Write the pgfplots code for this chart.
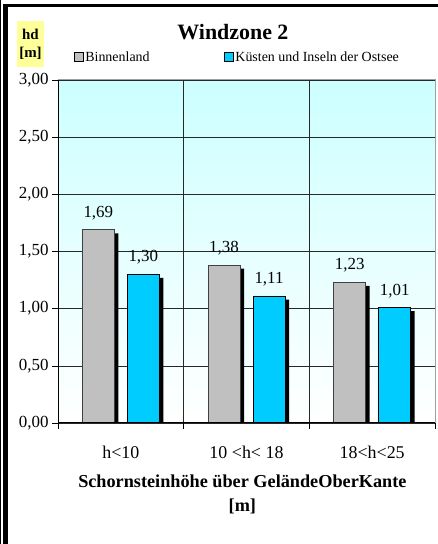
\documentclass[border=0pt]{standalone}
\usepackage{pgfplots}
\pgfplotsset{compat=1.18}
\usepackage{pgfplotstable}
\usepackage{fontspec}
\setmainfont{Liberation Serif}

\definecolor{binnen}{RGB}{192,192,192}
\definecolor{binnenrand}{RGB}{64,64,64}
\definecolor{kueste}{RGB}{0,204,255}
\definecolor{hgcyan}{RGB}{204,255,255}
\definecolor{labelgelb}{RGB}{255,255,153}
\definecolor{gitter}{RGB}{40,40,40}
\definecolor{rand}{RGB}{160,160,160}

\pgfplotsset{/pgf/number format/assume math mode=true}

% hd-Werte je Hoehenklasse
\pgfplotstableread{
x binnen kueste
0 1.69 1.30
1 1.38 1.11
2 1.23 1.01
}\hddaten

\begin{document}
\begin{tikzpicture}[x=1bp,y=1bp]
\useasboundingbox (0,0) rectangle (438,544);
% Rahmen links und oben
\fill[black] (0,0) rectangle (1.2,544);
\fill[black] (3,0) rectangle (8,540);
\fill[black] (3,537) rectangle (438,540);

\begin{axis}[
    at={(58bp,121bp)}, anchor=south west,
    scale only axis, width=377bp, height=343bp,
    ymin=0, ymax=3, ytick={0,0.5,...,3},
    xmin=-0.5, xmax=2.5,
    xtick={-0.5,0.5,1.5,2.5},
    x tick label as interval,
    xticklabels={h<10, 10 <h< 18, 18<h<25},
    tick pos=left, tick align=outside,
    major tick length=6bp,
    tick style={black, line width=0.6bp},
    grid=major,
    major grid style={gitter, line width=0.6bp},
    axis line style={rand, line width=1bp},
    axis background/.style={shade, top color=hgcyan, bottom color=white},
    yticklabel style={font=\fontsize{17}{20}\selectfont,
      /pgf/number format/.cd, fixed, fixed zerofill, precision=2, use comma},
    xticklabel style={font=\fontsize{18}{21}\selectfont, yshift=-14bp},
    title={Windzone 2},
    title style={at={(rel axis cs:0.464,1.121)}, anchor=center,
      font=\bfseries\fontsize{22}{26}\selectfont},
    xlabel={Schornsteinhöhe über GeländeOberKante\\{[m]}},
    xlabel style={at={(rel axis cs:0.489,-0.209)}, anchor=center, align=center,
      font=\bfseries\fontsize{18.3}{24}\selectfont},
    ylabel={hd\\{[m]}},
    ylabel style={rotate=-90, at={(rel axis cs:-0.073,1.105)}, anchor=center,
      align=center, fill=labelgelb, minimum width=27bp, minimum height=46bp,
      inner sep=0pt, font=\bfseries\fontsize{15}{18}\selectfont},
    legend columns=2,
    legend style={at={(rel axis cs:0.042,1.067)}, anchor=west, draw=none, fill=none,
      inner sep=0pt, font=\fontsize{14}{16}\selectfont,
      nodes={inner sep=1.5bp},
      /tikz/every even column/.append style={column sep=73bp}},
    legend image code/.code={\draw[#1, draw=black, line width=0.8bp] (0bp,-4.5bp) rectangle (9bp,4.5bp);},
    after end axis/.code={
      \draw[black, line width=1bp] (rel axis cs:0,1) -- (rel axis cs:0,0) -- (rel axis cs:1,0);
    },
  ]
% Schatten
\addplot[ybar, bar width=32bp, bar shift=-22.5bp, fill=black, draw=none,
  forget plot, xshift=4bp, yshift=-3.5bp] table[x=x, y=binnen] {\hddaten};
\addplot[ybar, bar width=32bp, bar shift=22.5bp, fill=black, draw=none,
  forget plot, xshift=4bp, yshift=-3.5bp] table[x=x, y=kueste] {\hddaten};
% Balken
\addplot[ybar, bar width=32bp, bar shift=-22.5bp, fill=binnen, draw=binnenrand,
  line width=1bp,
  nodes near coords,
  nodes near coords style={black, font=\fontsize{17}{20}\selectfont,
    xshift=-22.5bp, yshift=6bp,
    /pgf/number format/.cd, fixed, fixed zerofill, precision=2, use comma}]
  table[x=x, y=binnen] {\hddaten};
\addplot[ybar, bar width=32bp, bar shift=22.5bp, fill=kueste, draw=black,
  line width=1bp,
  nodes near coords,
  nodes near coords style={black, font=\fontsize{17}{20}\selectfont,
    xshift=22.5bp, yshift=6bp,
    /pgf/number format/.cd, fixed, fixed zerofill, precision=2, use comma}]
  table[x=x, y=kueste] {\hddaten};
\legend{Binnenland, Küsten und Inseln der Ostsee}
\end{axis}
\end{tikzpicture}
\end{document}
